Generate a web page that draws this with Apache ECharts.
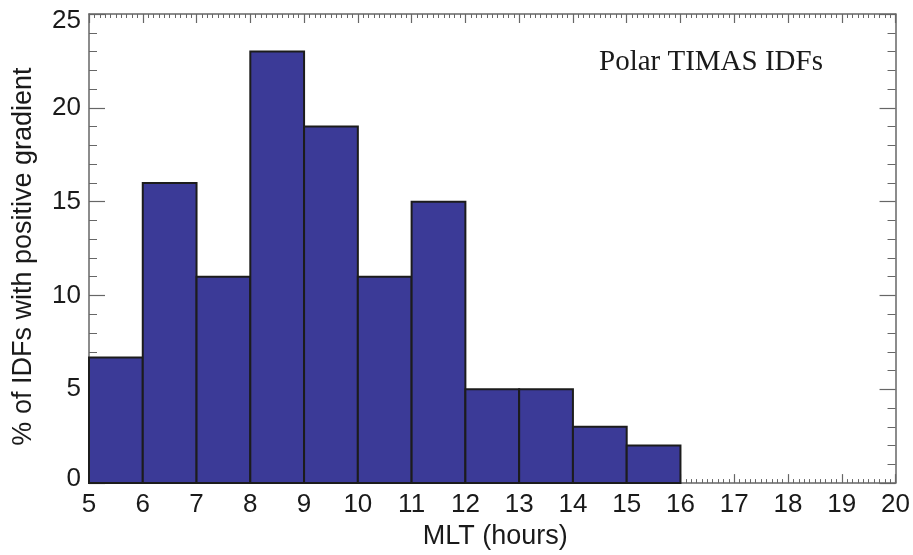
<!DOCTYPE html>
<html>
<head>
<meta charset="utf-8">
<script src="https://cdn.jsdelivr.net/npm/echarts@6/dist/echarts.min.js"></script>
<style>
html,body{margin:0;padding:0;background:#fff;}
#chart{width:913px;height:555px;}
</style>
</head>
<body>
<div id="chart"></div>
<script>
// Data
const binStarts = [5, 6, 7, 8, 9, 10, 11, 12, 13, 14, 15];
const binEnds   = [6, 7, 8, 9, 10, 11, 12, 13, 14, 15, 16];
const percents  = [6.7, 16, 11, 23, 19, 11, 15, 5, 5, 3, 2];
const xTickLabels = [5,6,7,8,9,10,11,12,13,14,15,16,17,18,19,20];
const yTickLabels = [0,5,10,15,20,25];
const titleText = 'Polar TIMAS IDFs';
const xName = 'MLT (hours)';
const yName = '% of IDFs with positive gradient';

const barData = binStarts.map((s, i) => [s, binEnds[i], percents[i]]);

const chart = echarts.init(document.getElementById('chart'), null, {renderer: 'canvas'});
const axisColor = '#666';
const textColor = '#1a1a1a';
const font = 'Liberation Sans, Arial, Helvetica, sans-serif';
const yMin = yTickLabels[0], yMax = yTickLabels[yTickLabels.length - 1];

function xAx(pos, showLabel) {
  return {
    type: 'value', position: pos,
    min: xTickLabels[0], max: xTickLabels[xTickLabels.length - 1], interval: 1,
    axisLine: {show: true, onZero: false, lineStyle: {color: axisColor, width: 1.5}},
    axisTick: {show: true, inside: true, length: 9, lineStyle: {color: axisColor, width: 1.2}},
    minorTick: {show: true, splitNumber: 10, length: 4, lineStyle: {color: axisColor, width: 1}},
    splitLine: {show: false}, minorSplitLine: {show: false},
    axisLabel: {show: showLabel, fontSize: 26, color: textColor, fontFamily: font, margin: 9},
    name: showLabel ? xName : '', nameLocation: 'middle', nameGap: 37,
    nameTextStyle: {fontSize: 27, color: textColor, fontFamily: font, padding: [0, 0, 0, 6]}
  };
}
function yAx(pos, showLabel) {
  const rs = {fontSize: 26, color: textColor, fontFamily: font};
  return {
    type: 'value', position: pos,
    min: yMin, max: yMax, interval: 5,
    axisLine: {show: true, onZero: false, lineStyle: {color: axisColor, width: 1.5}},
    axisTick: {show: true, inside: true, length: 16, lineStyle: {color: axisColor, width: 1.2}},
    minorTick: {show: true, splitNumber: 5, length: 8, lineStyle: {color: axisColor, width: 1}},
    splitLine: {show: false}, minorSplitLine: {show: false},
    axisLabel: {
      show: showLabel, fontSize: 26, color: textColor, fontFamily: font, margin: 8,
      formatter: function (v) {
        if (v === yMax) return '{top|' + v + '}';
        if (v === yMin) return '{bot|' + v + '}';
        return '{mid|' + v + '}';
      },
      rich: {
        top: Object.assign({padding: [13, 0, 0, 0]}, rs),
        bot: Object.assign({padding: [0, 0, 9, 0]}, rs),
        mid: rs
      }
    },
    name: showLabel ? yName : '', nameLocation: 'middle', nameGap: 52,
    nameTextStyle: {fontSize: 27, color: textColor, fontFamily: font, padding: [0, 16, 0, 0]}
  };
}

chart.setOption({
  animation: false,
  backgroundColor: '#fff',
  title: {
    text: titleText, left: 594, top: 43,
    textStyle: {fontFamily: 'Liberation Serif, Times New Roman, serif', fontSize: 29, fontWeight: 'normal', color: textColor}
  },
  grid: {left: 89, right: 16, top: 14, bottom: 66, containLabel: false},
  xAxis: [xAx('bottom', true), xAx('top', false)],
  yAxis: [yAx('left', true), yAx('right', false)],
  series: [{
    type: 'custom',
    xAxisIndex: 0, yAxisIndex: 0,
    data: barData,
    encode: {x: [0, 1], y: 2},
    renderItem: function (params, api) {
      const p0 = api.coord([api.value(0), api.value(2)]);
      const p1 = api.coord([api.value(1), 0]);
      return {
        type: 'rect',
        shape: {x: p0[0], y: p0[1], width: p1[0] - p0[0], height: p1[1] - p0[1]},
        style: {fill: '#3b3a97', stroke: '#1c1c1c', lineWidth: 2}
      };
    }
  }]
});
</script>
</body>
</html>
